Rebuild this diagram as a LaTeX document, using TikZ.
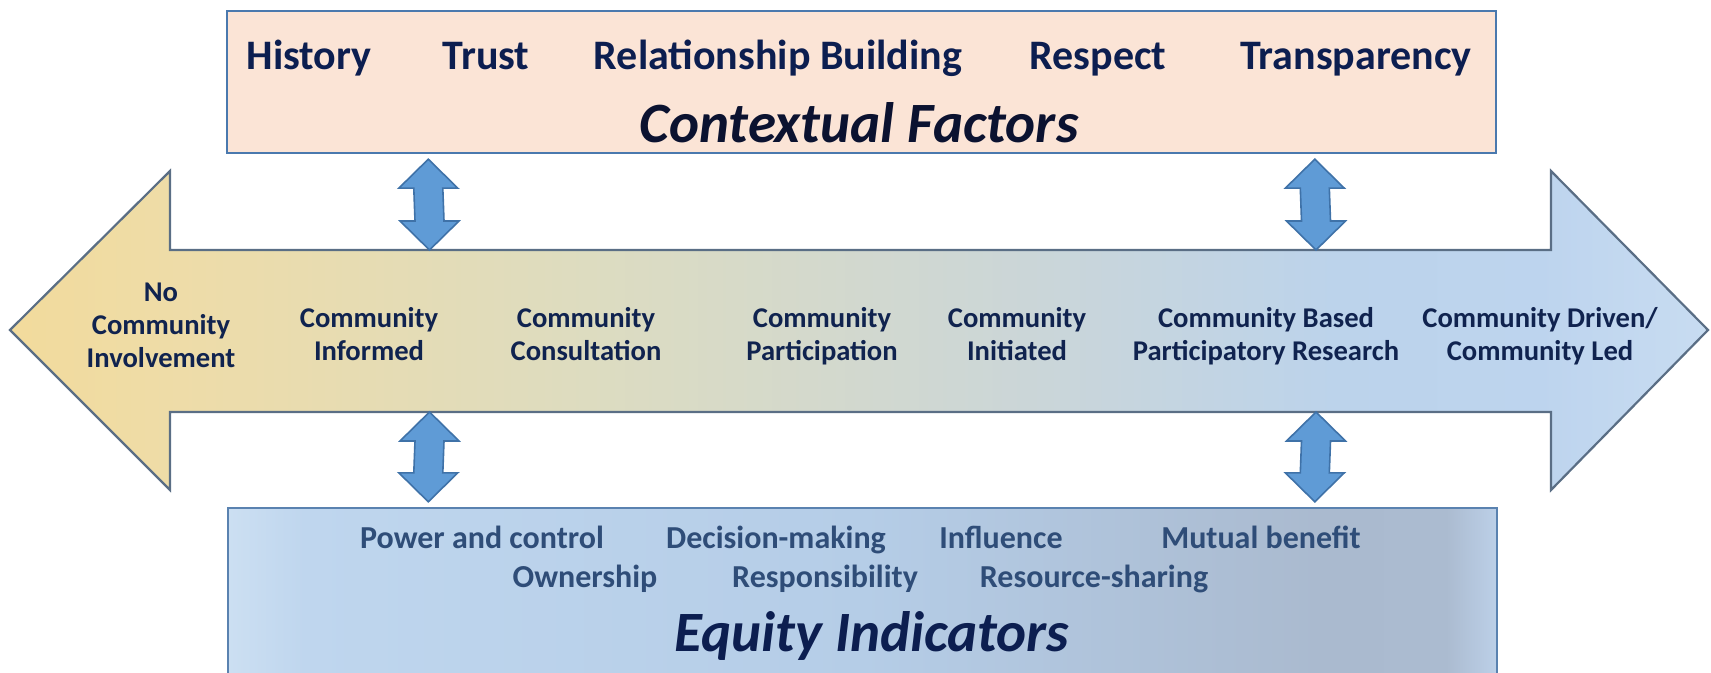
\documentclass[tikz,border=0pt]{standalone}
\usepackage{fontspec}
\setmainfont{Carlito}
\usetikzlibrary{calc}
\definecolor{peach}{HTML}{FBE4D6}
\definecolor{boxline}{HTML}{4A79AE}
\definecolor{arrline}{HTML}{5A6E85}
\definecolor{dblfill}{HTML}{5F9BD6}
\definecolor{dblline}{HTML}{3F72A8}
\definecolor{navy}{HTML}{0C1E50}
\definecolor{darktitle}{HTML}{0B1230}
\definecolor{lblnavy}{HTML}{10234F}
\definecolor{eqtext}{HTML}{2F4D78}
\definecolor{eqline}{HTML}{5A82B0}
\definecolor{ayel}{HTML}{F2DB9C}
\definecolor{ayelb}{HTML}{EEDCA8}
\definecolor{amid}{HTML}{DDDCC0}
\definecolor{amidb}{HTML}{CBD6D8}
\definecolor{ablue}{HTML}{BCD3EB}
\definecolor{ablueb}{HTML}{BDD4EE}
\definecolor{abluec}{HTML}{C8DCF1}
\definecolor{eqa}{HTML}{CCDFF2}
\definecolor{eqb}{HTML}{BFD6EE}
\definecolor{eqc}{HTML}{B5CDE7}
\definecolor{eqd}{HTML}{AABACF}
\definecolor{eqe}{HTML}{ABBBD0}
\definecolor{eqf}{HTML}{BCD0E8}
\pgfdeclarehorizontalshading{spectrum}{100bp}{color(0bp)=(ayel); color(25bp)=(ayel); color(30bp)=(ayelb); color(42bp)=(amid); color(55bp)=(amidb); color(64bp)=(ablue); color(70bp)=(ablueb); color(75bp)=(abluec); color(100bp)=(abluec)}
\pgfdeclarehorizontalshading{eqshade}{100bp}{color(0bp)=(eqa); color(25bp)=(eqa); color(28bp)=(eqb); color(50bp)=(eqc); color(68bp)=(eqd); color(73bp)=(eqe); color(75bp)=(eqf); color(100bp)=(eqf)}
\tikzset{
  ctxbox/.style={draw=boxline, line width=1.2pt, fill=peach, inner sep=0pt},
  eqbox/.style={draw=eqline, line width=1.2pt, shade, shading=eqshade, inner sep=0pt},
  bigarrow/.style={draw=arrline, line width=1.1pt, shade, shading=spectrum, line join=miter},
  dblstyle/.style={draw=dblline, line width=0.8pt, fill=dblfill, line join=miter},
  topword/.style={font=\bfseries\fontsize{21}{25}\selectfont, text=navy, inner sep=0pt, anchor=base},
  bigtitle/.style={font=\bfseries\itshape\fontsize{28.5}{34}\selectfont, text=navy, inner sep=0pt, anchor=base},
  lbl/.style={font=\bfseries\fontsize{14.3}{16.5}\selectfont, text=lblnavy, inner sep=0pt, align=center, anchor=north},
  eqword/.style={font=\bfseries\fontsize{16}{19}\selectfont, text=eqtext, inner sep=0pt, anchor=base}
}
\newcommand\dblarr[2]{%
  \draw[dblstyle] (#1) -- ++(29.5,29) -- ++(-15,0) -- ($(#2)+(14.5,-29)$) -- ++(15,0) -- (#2)
    -- ++(-29.5,-29) -- ++(15,0) -- ($(#1)+(-14.5,29)$) -- ++(-15,0) -- cycle;}
\begin{document}
\begin{tikzpicture}[x=0.5pt,y=-0.5pt]
\clip (0,0) rectangle (1711,673);
% top box
\node[ctxbox, minimum width=634.5pt, minimum height=71pt] (ctx) at (861.5,82) {};
% bottom box
\node[eqbox, minimum width=634.5pt, minimum height=96pt] (eq) at (862.5,604) {};
% big arrow
\draw[bigarrow] (10,330) coordinate (ltip) -- (170,171) -- (170,250) coordinate (shaftTL)
  -- (1551,250) coordinate (shaftTR) -- (1551,171) -- (1708,330) coordinate (rtip)
  -- (1551,490) -- (1551,412) coordinate (shaftBR) -- (170,412) coordinate (shaftBL)
  -- (170,490) -- cycle;
% connector coordinates
\coordinate (u1t) at ($(ctx.south west)+(202.5,5)$);
\coordinate (u1b) at (429.5,250);
\coordinate (u2t) at ($(ctx.south west)+(1089,5)$);
\coordinate (u2b) at (1316,250);
\coordinate (d1t) at (429.5,412);
\coordinate (d1b) at ($(eq.north west)+(201.5,-5)$);
\coordinate (d2t) at (1316,412);
\coordinate (d2b) at ($(eq.north west)+(1088,-5)$);
\dblarr{u1t}{u1b}
\dblarr{u2t}{u2b}
\dblarr{d1t}{d1b}
\dblarr{d2t}{d2b}
% top words
\node[topword] (w1) at (309,70) {History};
\node[topword] (w2) at (486,70) {Trust};
\node[topword] (w3) at (778,70) {Relationship Building};
\node[topword] (w4) at (1098,70) {Respect};
\node[topword] (w5) at (1356,70) {Transparency};
\node[bigtitle, text=darktitle] (ctxt) at (859,143) {Contextual Factors};
% arrow labels
\node[lbl] (l1) at (161,283) {No\\Community\\Involvement};
\node[lbl] (l2) at (369,307) {Community\\Informed};
\node[lbl] (l3) at (586,307) {Community\\Consultation};
\node[lbl] (l4) at (822,307) {Community\\Participation};
\node[lbl] (l5) at (1017,307) {Community\\Initiated};
\node[lbl] (l6) at (1266,307) {Community Based\\Participatory Research};
\node[lbl] (l7) at (1540,307) {Community Driven/\\Community Led};
% equity words
\node[eqword] (e1) at (482,548) {Power and control};
\node[eqword] (e2) at (776,548) {Decision-making};
\node[eqword] (e3) at (1001,548) {Influence};
\node[eqword] (e4) at (1261,548) {Mutual benefit};
\node[eqword] (e5) at (585,587) {Ownership};
\node[eqword] (e6) at (825,587) {Responsibility};
\node[eqword] (e7) at (1094,587) {Resource-sharing};
\node[bigtitle] (eqt) at (872,651) {Equity Indicators};
\end{tikzpicture}
\end{document}
